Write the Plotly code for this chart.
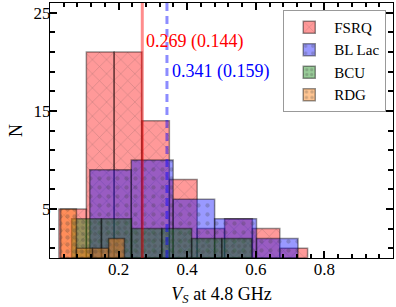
import plotly.graph_objects as go

# ---- data ----
fsrq_edges = [0.026, 0.106, 0.187, 0.268, 0.348, 0.429, 0.509, 0.590, 0.670, 0.751]
fsrq_counts = [5, 21, 21, 14, 8, 3, 4, 3, 1]

bll_edges = [0.116, 0.237, 0.359, 0.480, 0.602, 0.723]
bll_counts = [9, 10, 6, 4, 2]

bcu_edges = [0.063, 0.150, 0.238, 0.326, 0.413, 0.501, 0.588]
bcu_counts = [4, 4, 3, 3, 2, 2]

rdg_edges = [0.031, 0.077, 0.124, 0.171, 0.217]
rdg_counts = [5, 1, 1, 2]

fsrq_median, fsrq_std = 0.269, 0.144
bll_median, bll_std = 0.341, 0.159

x_ticks = [0.2, 0.4, 0.6, 0.8]
y_ticks = [5, 15, 25]

FONT = "Liberation Serif"


def centers(edges):
    return [(a + b) / 2 for a, b in zip(edges[:-1], edges[1:])]


def widths(edges):
    return [b - a for a, b in zip(edges[:-1], edges[1:])]


fig = go.Figure()

series = [
    ("FSRQ", fsrq_edges, fsrq_counts, "rgba(255,0,0,0.4)", "x", 10, 0.12),
    ("BL Lac", bll_edges, bll_counts, "rgba(0,0,255,0.4)", ".", 9, 0.18),
    ("BCU", bcu_edges, bcu_counts, "rgba(0,128,0,0.4)", ".", 6, 0.35),
    ("RDG", rdg_edges, rdg_counts, "rgba(255,127,14,0.45)", ".", 7, 0.3),
]

for name, edges, counts, col, shp, sz, sol in series:
    fig.add_trace(go.Bar(
        name=name,
        x=centers(edges),
        y=counts,
        width=widths(edges),
        marker=dict(
            color=col,
            line=dict(color="rgba(0,0,0,0.42)", width=1.5),
            pattern=dict(shape=shp, fgcolor="rgba(60,60,60,0.5)", size=sz, solidity=sol,
                         fillmode="overlay"),
        ),
    ))

# median lines
fig.add_vline(x=fsrq_median, line=dict(color="rgba(255,0,0,0.45)", width=3))
fig.add_vline(x=bll_median, line=dict(color="rgba(0,0,255,0.45)", width=3, dash="8px,5px"))

fig.add_annotation(x=fsrq_median + 0.006, y=22.1, xref="x", yref="y",
                   text=f"{fsrq_median:.3f} ({fsrq_std:.3f})", showarrow=False,
                   xanchor="left", yanchor="middle",
                   font=dict(family=FONT, size=18, color="red"))
fig.add_annotation(x=bll_median + 0.008, y=19.0, xref="x", yref="y",
                   text=f"{bll_median:.3f} ({bll_std:.3f})", showarrow=False,
                   xanchor="left", yanchor="middle",
                   font=dict(family=FONT, size=18, color="blue"))

axis_common = dict(
    showline=True, linecolor="black", linewidth=1, mirror="allticks",
    ticks="inside", tickcolor="black", tickwidth=2, ticklen=7,
    showgrid=False, zeroline=False, automargin=False,
    tickfont=dict(family=FONT, size=17, color="black"),
)

fig.update_xaxes(
    range=[0, 1.0], tickvals=x_ticks, ticktext=[f"{v:.1f}" for v in x_ticks],
    ticklabelstandoff=-4,
    minor=dict(ticks="inside", dtick=0.04, tick0=0, ticklen=4, tickwidth=1.5, tickcolor="black"),
    title=dict(text="<i>V</i><sub><i>S</i></sub> at 4.8 GHz", font=dict(family=FONT, size=18, color="black"),
               standoff=8),
    **axis_common,
)
fig.update_yaxes(
    range=[0, 26], tickvals=y_ticks,
    ticklabelstandoff=-5,
    minor=dict(ticks="inside", dtick=2, tick0=1, ticklen=5, tickwidth=1.5, tickcolor="black"),
    title=dict(text="N", font=dict(family=FONT, size=18, color="black"), standoff=6),
    **axis_common,
)

fig.update_layout(
    width=396, height=307,
    margin=dict(l=50, r=3, t=3, b=49),
    barmode="overlay",
    plot_bgcolor="white", paper_bgcolor="white",
    legend=dict(
        x=0.68, y=0.973, xanchor="left", yanchor="top",
        bgcolor="white", bordercolor="#999", borderwidth=1,
        font=dict(family=FONT, size=15, color="black"),
        tracegroupgap=0, itemwidth=40,
    ),
    showlegend=True,
)

fig.write_html("out.html", config={"displayModeBar": False},
               post_script="document.body.style.margin='0px';")
